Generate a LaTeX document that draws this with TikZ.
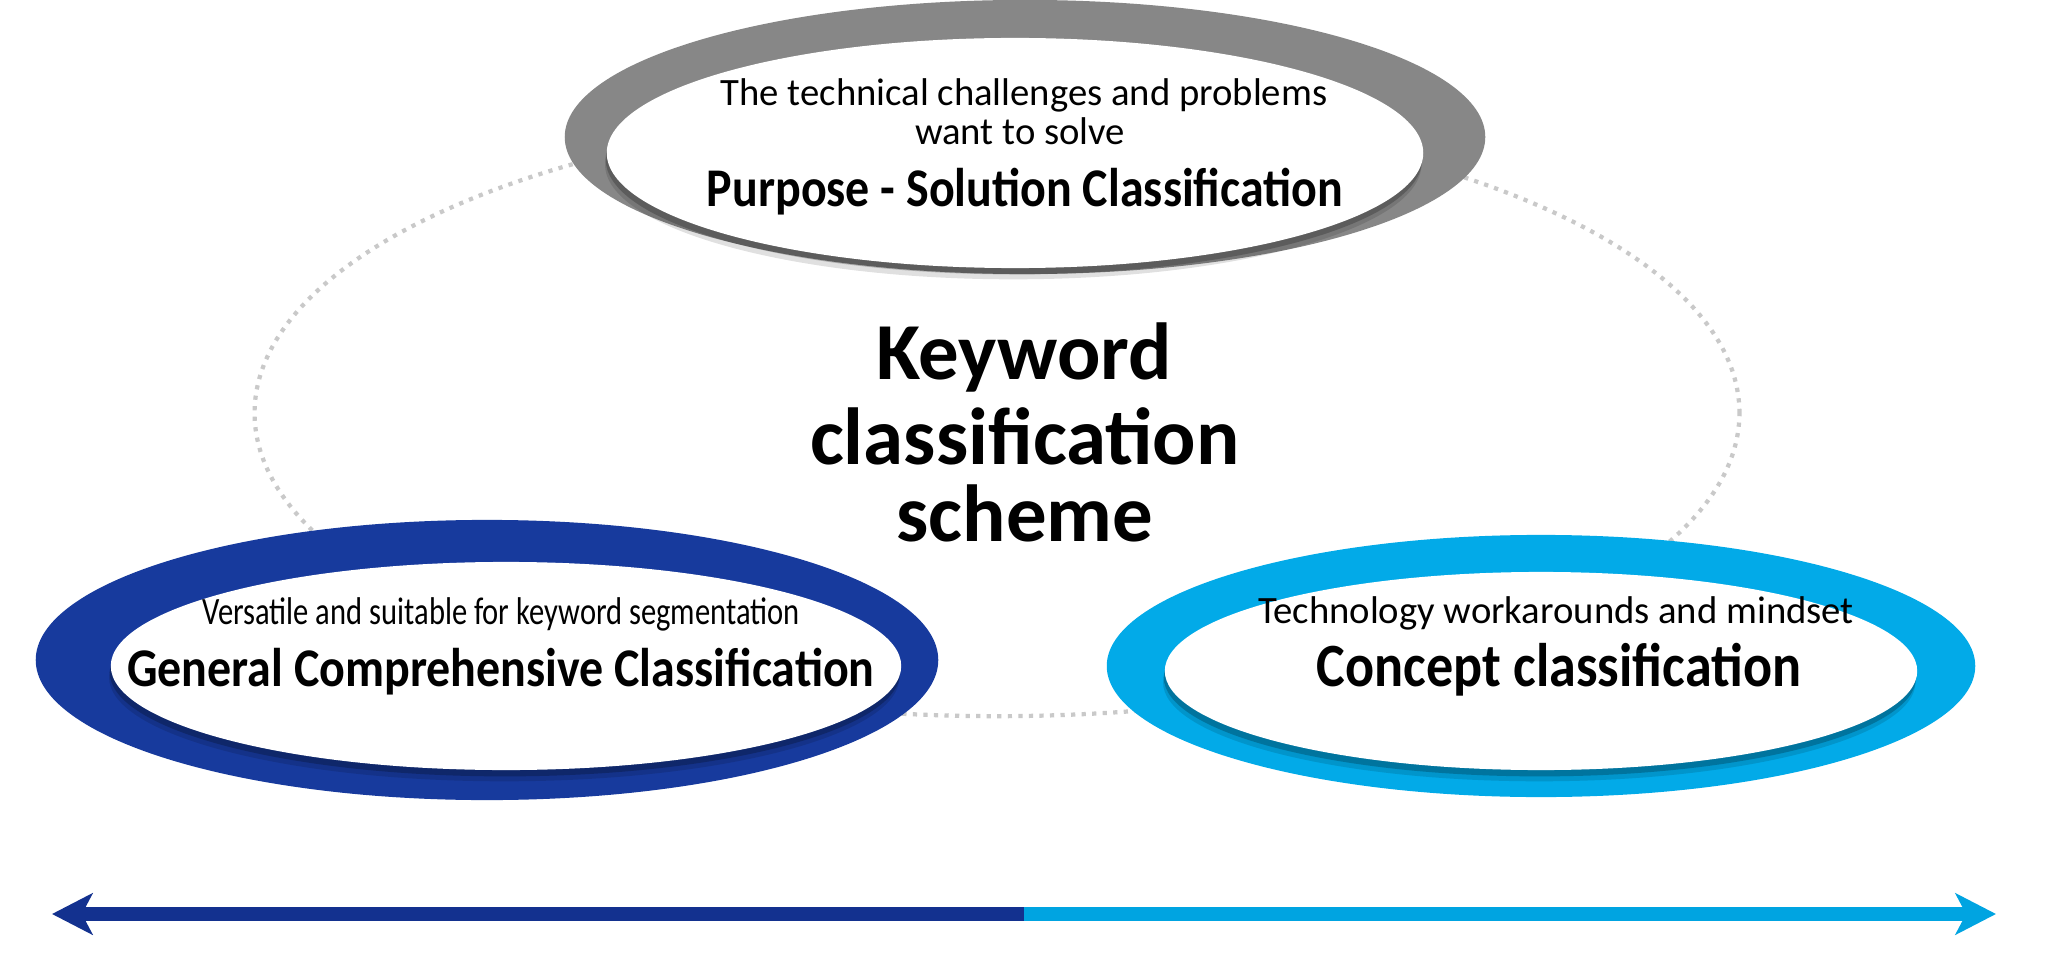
\documentclass[tikz,border=0pt]{standalone}
\usepackage{fontspec}
\setmainfont{Carlito}
\newfontfamily\narrowfont[FakeStretch=0.79]{Carlito}
\newfontfamily\titlefont[FakeStretch=0.88]{Carlito}
\usetikzlibrary{shapes.geometric, arrows.meta, shadows}
\definecolor{ringgray}{HTML}{878787}
\definecolor{deepblue}{HTML}{173A9D}
\definecolor{skyblue}{HTML}{02AAE8}
\definecolor{arrowblue}{HTML}{13318F}
\definecolor{arrowsky}{HTML}{00A4E1}
\definecolor{dotgray}{HTML}{C9C9C9}

\begin{document}
\begin{tikzpicture}[
  x=0.01cm, y=-0.01cm,
  ring/.style={ellipse, inner sep=0pt, draw=none},
  disc/.style={ellipse, inner sep=0pt, fill=white,
               drop shadow={shadow xshift=-0.5pt, shadow yshift=-3.2pt, opacity=0.12, fill=black},
               drop shadow={shadow xshift=-0.3pt, shadow yshift=-1.8pt, opacity=0.22, fill=black}},
  orbitline/.style={ellipse, inner sep=0pt, draw=dotgray, line width=1.2pt, dash pattern=on 1.2pt off 1.8pt},
  note/.style={anchor=base, inner sep=0pt, font=\fontsize{11}{13}\selectfont},
  title/.style={anchor=base, inner sep=0pt, font=\titlefont\bfseries\fontsize{15.5}{17}\selectfont},
  headline/.style={anchor=base, inner sep=0pt, font=\bfseries\fontsize{23}{23}\selectfont},
  axis/.style={line width=4.2pt}
]
  \fill[white] (0,0) rectangle (2048,973);
  \useasboundingbox (0,0) rectangle (2048,973);

  % Dotted orbit behind the rings
  \node[orbitline, minimum width=14.84cm, minimum height=6.06cm] (orbit) at (997,413) {};

  % Top ring
  \node[ring, fill=ringgray, minimum width=9.2cm, minimum height=2.74cm] (purposeRing) at (1025,137) {};
  \node[disc, minimum width=8.16cm, minimum height=2.30cm] (purposeDisc) at (1015,153) {};
  \node[note] (purposeNoteA) at (1024,106) {The technical challenges and problems};
  \node[note] (purposeNoteB) at (1020,145) {want to solve};
  \node[title] (purposeTitle) at (1025,206) {Purpose - Solution Classification};

  % Left ring
  \node[ring, fill=deepblue, minimum width=9.02cm, minimum height=2.80cm] (generalRing) at (487,660) {};
  \node[disc, minimum width=7.90cm, minimum height=2.08cm] (generalDisc) at (506,666) {};
  \node[note, font=\narrowfont\fontsize{11}{13}\selectfont] (generalNote) at (501,624) {Versatile and suitable for keyword segmentation};
  \node[title] (generalTitle) at (501,686) {General Comprehensive Classification};

  % Right ring
  \node[ring, fill=skyblue, minimum width=8.68cm, minimum height=2.62cm] (conceptRing) at (1541,666) {};
  \node[disc, minimum width=7.52cm, minimum height=1.98cm] (conceptDisc) at (1541,671) {};
  \node[note] (conceptNote) at (1556,623) {Technology workarounds and mindset};
  \node[title, font=\titlefont\bfseries\fontsize{17.5}{19}\selectfont] (conceptTitle) at (1559,686) {Concept classification};

  % Centre heading
  \node[headline] (headA) at (1024,379) {Keyword};
  \node[headline] (headB) at (1025,464) {classification};
  \node[headline] (headC) at (1025,541) {scheme};

  % Bottom axis
  \coordinate (axisL) at (52,914);
  \coordinate (axisM) at (1024,914);
  \coordinate (axisR) at (1996,914);
  \draw[axis, arrowblue, {Stealth[length=11.5pt, width=11.7pt, inset=3pt]}-] (axisL) -- (axisM);
  \draw[axis, arrowsky, -{Stealth[length=11.5pt, width=11.7pt, inset=3pt]}] (axisM) -- (axisR);
\end{tikzpicture}
\end{document}
